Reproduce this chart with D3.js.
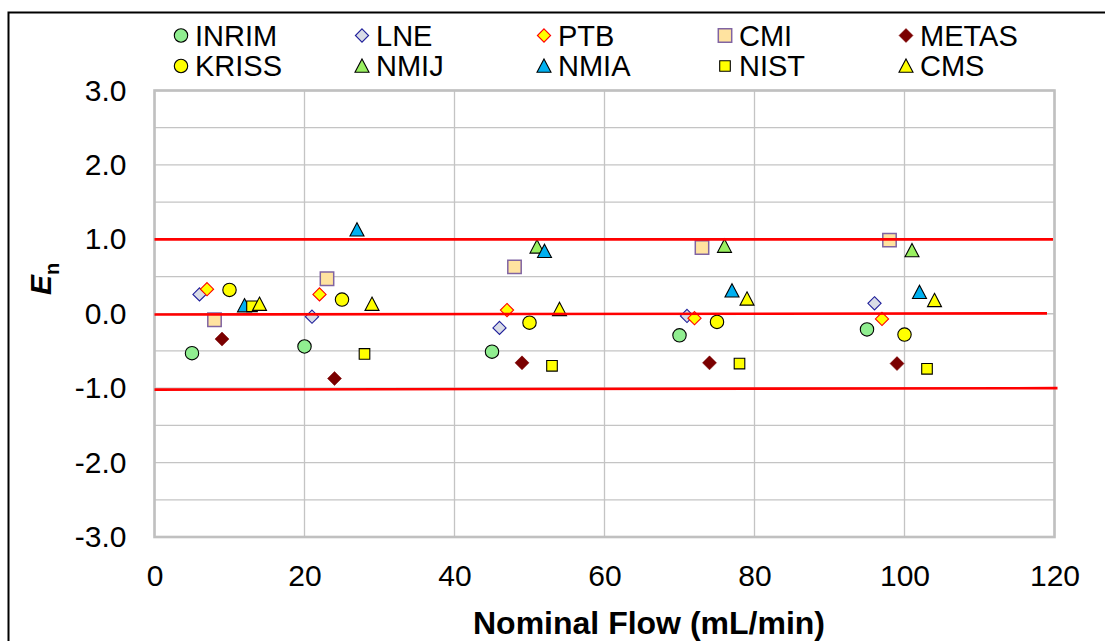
<!DOCTYPE html>
<html>
<head>
<meta charset="utf-8">
<script src="https://cdn.jsdelivr.net/npm/d3@7"></script>
<style>
  html, body { margin: 0; padding: 0; background: #fff; }
  svg { display: block; font-family: "Liberation Sans", Arial, sans-serif; }
</style>
</head>
<body>
<svg id="chart" width="1105" height="641"></svg>
<script>
// ---------------- DATA ----------------
const seriesNames = ["INRIM", "LNE", "PTB", "CMI", "METAS", "KRISS", "NMIJ", "NMIA", "NIST", "CMS"];

const inrimX = [5, 20, 45, 70, 95];
const inrimY = [-0.53, -0.44, -0.51, -0.29, -0.21];
const lneX = [6, 21, 46, 71, 96];
const lneY = [0.26, -0.04, -0.19, -0.03, 0.14];
const ptbX = [7, 22, 47, 72, 97];
const ptbY = [0.33, 0.26, 0.05, -0.06, -0.07];
const cmiX = [8, 23, 48, 73, 98];
const cmiY = [-0.08, 0.47, 0.63, 0.89, 0.99];
const metasX = [9, 24, 49, 74, 99];
const metasY = [-0.34, -0.87, -0.66, -0.66, -0.67];
const krissX = [10, 25, 50, 75, 100];
const krissY = [0.32, 0.19, -0.12, -0.11, -0.28];
const nmijX = [51, 76, 101];
const nmijY = [0.90, 0.91, 0.85];
const nmiaX = [12, 27, 52, 77, 102];
const nmiaY = [0.11, 1.13, 0.84, 0.31, 0.29];
const nistX = [13, 28, 53, 78, 103];
const nistY = [0.10, -0.54, -0.70, -0.67, -0.74];
const cmsX = [14, 29, 54, 79, 104];
const cmsY = [0.13, 0.13, 0.06, 0.20, 0.18];

// limit / reference lines (En = +1, 0, -1)
const limitX0 = [0, 0, 0];
const limitX1 = [119.8, 119.0, 120.4];
const limitY0 = [1.0, -0.01, -1.02];
const limitY1 = [1.0, 0.005, -1.0];

const xTickValues = [0, 20, 40, 60, 80, 100, 120];
const yTickValues = [-3, -2, -1, 0, 1, 2, 3];
const yGridValues = [-3, -2.5, -2, -1.5, -1, -0.5, 0, 0.5, 1, 1.5, 2, 2.5, 3];

const xTitle = "Nominal Flow (mL/min)";

// ---------------- STYLES ----------------
const styles = {
  INRIM: { shape: "circle",   size: 6.7, fill: "#90EE90", stroke: "#000000", sw: 1.1 },
  LNE:   { shape: "diamond",  size: 6.6, fill: "#D9DCE6", stroke: "#1F1F9A", sw: 1.1 },
  PTB:   { shape: "diamond",  size: 6.6, fill: "#FFFF00", stroke: "#FF0000", sw: 1.1 },
  CMI:   { shape: "square",   size: 6.7, fill: "#FFE3A0", stroke: "#8064A2", sw: 1.5 },
  METAS: { shape: "diamond",  size: 7.0, fill: "#7B0000", stroke: "#7B0000", sw: 0.5 },
  KRISS: { shape: "circle",   size: 6.7, fill: "#FFFF00", stroke: "#000000", sw: 1.1 },
  NMIJ:  { shape: "triangle", size: 7.0, fill: "#99F060", stroke: "#000000", sw: 1.1 },
  NMIA:  { shape: "triangle", size: 7.0, fill: "#00B0F0", stroke: "#000000", sw: 1.1 },
  NIST:  { shape: "square",   size: 5.3, fill: "#FFFF00", stroke: "#000000", sw: 1.1 },
  CMS:   { shape: "triangle", size: 7.0, fill: "#FFFF00", stroke: "#000000", sw: 1.1 }
};

const seriesData = {
  INRIM: [inrimX, inrimY], LNE: [lneX, lneY], PTB: [ptbX, ptbY], CMI: [cmiX, cmiY],
  METAS: [metasX, metasY], KRISS: [krissX, krissY], NMIJ: [nmijX, nmijY],
  NMIA: [nmiaX, nmiaY], NIST: [nistX, nistY], CMS: [cmsX, cmsY]
};

function shapePath(shape, s) {
  switch (shape) {
    case "circle":
      return `M${-s},0A${s},${s} 0 1,0 ${s},0A${s},${s} 0 1,0 ${-s},0Z`;
    case "diamond":
      return `M0,${-s}L${s},0L0,${s}L${-s},0Z`;
    case "square":
      return `M${-s},${-s}H${s}V${s}H${-s}Z`;
    case "triangle":
      return `M0,${-s}L${s},${s * 0.9}L${-s},${s * 0.9}Z`;
  }
}

// ---------------- CHART ----------------
(function () {
const svg = d3.select("#chart");
const pL = 154.5, pR = 1054.5, pT = 90.5, pB = 537;

const x = d3.scaleLinear().domain([0, 120]).range([pL, pR]);
const y = d3.scaleLinear().domain([-3, 3]).range([pB, pT]);

// outer chart border
svg.append("rect")
  .attr("x", 8.5).attr("y", 12.5)
  .attr("width", 1120).attr("height", 660)
  .attr("fill", "#fff").attr("stroke", "#000").attr("stroke-width", 2);

// gridlines
const grid = svg.append("g");
grid.selectAll("line.h").data(yGridValues).join("line")
  .attr("x1", pL).attr("x2", pR)
  .attr("y1", d => y(d)).attr("y2", d => y(d))
  .attr("stroke", "#C4C4C4").attr("stroke-width", 1.3);
grid.selectAll("line.v").data(xTickValues).join("line")
  .attr("x1", d => x(d)).attr("x2", d => x(d))
  .attr("y1", pT).attr("y2", pB)
  .attr("stroke", "#C4C4C4").attr("stroke-width", 1.3);
// plot area border
svg.append("rect")
  .attr("x", pL).attr("y", pT)
  .attr("width", pR - pL).attr("height", pB - pT)
  .attr("fill", "none").attr("stroke", "#C0C0C0").attr("stroke-width", 2.6);

// axes
const yAxis = d3.axisLeft(y).tickValues(yTickValues).tickSize(0).tickPadding(28)
  .tickFormat(d => d.toFixed(1));
const gy = svg.append("g").attr("transform", `translate(${pL},0)`).call(yAxis);
gy.select(".domain").remove();
gy.selectAll("text").attr("font-size", 30).attr("fill", "#000")
  .attr("font-family", "Liberation Sans, Arial, sans-serif");

const xAxis = d3.axisBottom(x).tickValues(xTickValues).tickSize(0).tickPadding(28)
  .tickFormat(d => String(d));
const gx = svg.append("g").attr("transform", `translate(0,${pB})`).call(xAxis);
gx.select(".domain").remove();
gx.selectAll("text").attr("font-size", 30).attr("fill", "#000")
  .attr("font-family", "Liberation Sans, Arial, sans-serif");

// axis titles
svg.append("text")
  .attr("x", 649).attr("y", 634)
  .attr("text-anchor", "middle")
  .attr("font-size", 32).attr("font-weight", "bold")
  .text(xTitle);

const yt = svg.append("text")
  .attr("transform", "translate(51,279) rotate(-90)")
  .attr("text-anchor", "middle")
  .attr("font-weight", "bold");
yt.append("tspan").attr("font-size", 30).attr("font-style", "italic").text("E");
yt.append("tspan").attr("font-size", 20).attr("dy", 8).text("n");

// markers
const markG = svg.append("g");
seriesNames.forEach(name => {
  const [xs, ys] = seriesData[name];
  const st = styles[name];
  const pts = xs.map((v, i) => [v, ys[i]]);
  markG.selectAll(null).data(pts).join("path")
    .attr("transform", d => `translate(${x(d[0])},${y(d[1])})`)
    .attr("d", shapePath(st.shape, st.size))
    .attr("fill", st.fill).attr("stroke", st.stroke).attr("stroke-width", st.sw);
});

// limit lines
const lineGen = d3.line().x(d => x(d[0])).y(d => y(d[1]));
limitX0.forEach((x0, i) => {
  svg.append("path")
    .attr("d", lineGen([[x0, limitY0[i]], [limitX1[i], limitY1[i]]]))
    .attr("stroke", "#FF0000").attr("stroke-width", 2.6).attr("fill", "none");
});

// legend
const legX = [195, 376, 558, 739, 920];
const legY = [35.5, 66];
const leg = svg.append("g");
seriesNames.forEach((name, i) => {
  const col = i % 5, row = Math.floor(i / 5);
  const st = styles[name];
  const g = leg.append("g").attr("transform", `translate(${legX[col]},${legY[row]})`);
  g.append("path")
    .attr("transform", "translate(-14,0)")
    .attr("d", shapePath(st.shape, st.size))
    .attr("fill", st.fill).attr("stroke", st.stroke).attr("stroke-width", st.sw);
  g.append("text").attr("x", 0).attr("dy", "0.35em")
    .attr("font-size", 29).text(name);
});
})();
</script>
</body>
</html>
